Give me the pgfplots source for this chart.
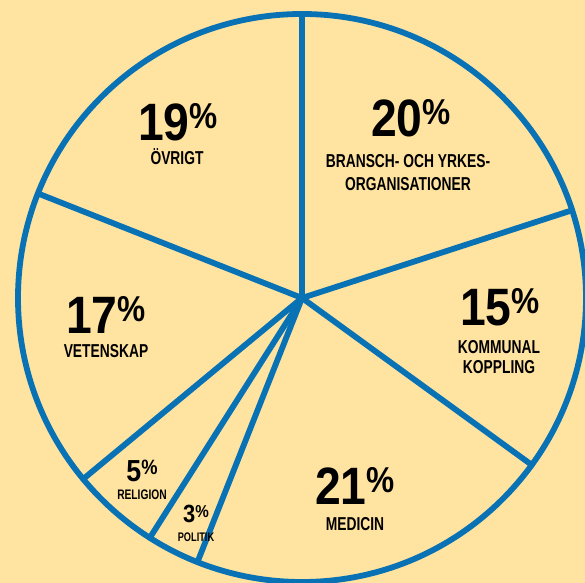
\documentclass[border=0pt]{standalone}
\usepackage{pgfplots}
\pgfplotsset{compat=1.18}
\usepackage{pgfplotstable}
\usepackage{fontspec}
\setmainfont{Liberation Sans}
\newfontfamily\numfont{Liberation Sans}[FakeStretch=0.88]
\newfontfamily\lblfont{Liberation Sans}[FakeStretch=0.74]
\definecolor{bg}{RGB}{255,227,160}
\definecolor{pieblue}{RGB}{8,114,181}

\pgfplotstableread{
pct label
20 bransch
15 kommunal
21 medicin
3 politik
5 religion
17 vetenskap
19 ovrigt
}\slices

% #1 digit size, #2 percent size, #3 raise, #4 number
\newcommand\bn[4]{{\numfont\bfseries\fontsize{#1}{#1}\selectfont #4\raisebox{#3}{\fontsize{#2}{#2}\selectfont\%}}}
\newcommand\lbf[2]{\lblfont\bfseries\fontsize{#1}{#2}\selectfont}

\begin{document}
\begin{tikzpicture}
\begin{axis}[width=5.85in,height=5.83in,scale only axis,
  xmin=0,xmax=585,ymin=0,ymax=583,hide axis,clip=true]
\fill[bg] (rel axis cs:0,0) rectangle (rel axis cs:1,1);
\draw[pieblue, line width=4.2pt] (axis cs:302,285) circle[radius=284];
\pgfplotstablegetrowsof{\slices}
\pgfmathtruncatemacro\last{\pgfplotsretval-1}
\def\ang{90}
\pgfplotsforeachungrouped \i in {0,...,\last}{%
  \pgfplotstablegetelem{\i}{pct}\of\slices
  \pgfmathsetmacro\ang{\ang-3.6*\pgfplotsretval}%
  \pgfmathsetmacro\ex{302+284*cos(\ang)}%
  \pgfmathsetmacro\ey{285+284*sin(\ang)}%
  \edef\tmp{\noexpand\addplot[pieblue, line width=4.2pt, line cap=round] coordinates {(302,285) (\ex,\ey)};}\tmp
}
% labels
\node[inner sep=0] at (axis cs:178,461) {\bn{38}{26}{8.9pt}{19}};
\node[inner sep=0,font=\lbf{13.5}{16.5}] at (axis cs:177,426) {ÖVRIGT};
\node[inner sep=0] at (axis cs:411,465) {\bn{38}{26}{8.9pt}{20}};
\node[inner sep=0,align=center,font=\lbf{13.5}{16.5}] at (axis cs:408,410.5) {BRANSCH- OCH YRKES-\\ORGANISATIONER};
\node[inner sep=0] at (axis cs:500,276) {\bn{38}{26}{8.9pt}{15}};
\node[inner sep=0,align=center,font=\lbf{13.5}{14.5}] at (axis cs:499,226) {KOMMUNAL\\KOPPLING};
\node[inner sep=0] at (axis cs:106,268) {\bn{38}{26}{8.9pt}{17}};
\node[inner sep=0,font=\lbf{13.5}{16.5}] at (axis cs:106,232) {VETENSKAP};
\node[inner sep=0] at (axis cs:355,97) {\bn{38}{26}{8.9pt}{21}};
\node[inner sep=0,font=\lbf{13.5}{16.5}] at (axis cs:355,59) {MEDICIN};
\node[inner sep=0] at (axis cs:142,112) {\bn{22}{15}{5.1pt}{5}};
\node[inner sep=0,font=\lbf{10}{12}] at (axis cs:142,88) {RELIGION};
\node[inner sep=0] at (axis cs:196,69) {\bn{18}{12.5}{4pt}{3}};
\node[inner sep=0,font=\lbf{9}{11}] at (axis cs:196,46) {POLITIK};
\end{axis}
\pgfresetboundingbox
\useasboundingbox (current axis.south west) rectangle (current axis.north east);
\end{tikzpicture}
\end{document}
